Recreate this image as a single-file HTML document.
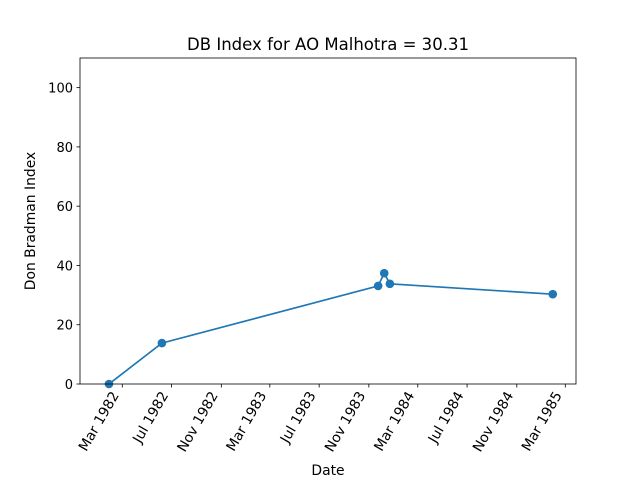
<!DOCTYPE html>
<html><head><meta charset="utf-8"><style>
body{margin:0;background:#fff;font-family:"Liberation Sans","DejaVu Sans",sans-serif}
</style></head><body>
<svg id="chart" width="640" height="480" xmlns="http://www.w3.org/2000/svg" font-family="DejaVu Sans, Liberation Sans, sans-serif"></svg>
<script>
const dates = ["1982-01-27","1982-06-07","1983-11-24","1983-12-09","1983-12-23","1985-01-29"];
const values = [0, 13.8, 33.1, 37.4, 33.8, 30.3];
const xTickLabels = ["Mar 1982","Jul 1982","Nov 1982","Mar 1983","Jul 1983","Nov 1983","Mar 1984","Jul 1984","Nov 1984","Mar 1985"];
const xTickDates = ["1982-03-01","1982-07-01","1982-11-01","1983-03-01","1983-07-01","1983-11-01","1984-03-01","1984-07-01","1984-11-01","1985-03-01"];
const yTicks = [0,20,40,60,80,100];

const svg = document.getElementById('chart');
const NS = 'http://www.w3.org/2000/svg';
const L=80,R=576,T=58,B=384;
const day = s => Date.parse(s)/86400000;
const d0 = day("1982-03-01"), d1 = day("1985-03-01");
const x0 = 122.3, x1 = 565.3;
const xs = s => x0 + (day(s)-d0)*(x1-x0)/(d1-d0);
const ys = v => B - v*(B-T)/110;
function el(tag, attrs, parent){const e=document.createElementNS(NS,tag);for(const k in attrs)e.setAttribute(k,attrs[k]);(parent||svg).appendChild(e);return e;}

const title = el('text',{x:328,y:50,'text-anchor':'middle','font-size':16.5,textLength:282,lengthAdjust:'spacingAndGlyphs'});
title.textContent='DB Index for AO Malhotra = 30.31';



yTicks.forEach(v=>{
  const y=ys(v);
  const t=el('line',{x1:L-3.5,x2:L,y1:y,y2:y,stroke:'#000','stroke-width':0.8});
  
  
  const lb=el('text',{x:L-7,y:y+5,'text-anchor':'end','font-size':13});
  lb.textContent=v;
  
  
});
xTickDates.forEach((d,i)=>{
  const x=xs(d);
  const t=el('line',{x1:x,x2:x,y1:B,y2:B+3.5,stroke:'#000','stroke-width':0.8});
  
  
  const lb=el('text',{x:0,y:0,'text-anchor':'end','font-size':13.9,transform:`translate(${x-3},${B+11}) rotate(-60)`});
  lb.textContent=xTickLabels[i];
  
  
});

const yl=el('text',{x:0,y:0,'text-anchor':'middle','font-size':13.9,transform:`translate(35,${(T+B)/2}) rotate(-90)`});
yl.textContent='Don Bradman Index';


const xl=el('text',{x:328,y:475,'text-anchor':'middle','font-size':13.9});
xl.textContent='Date';



const pts=dates.map((d,i)=>xs(d)+','+ys(values[i])).join(' ');
const line=el('polyline',{points:pts,fill:'none',stroke:'#1f77b4','stroke-width':1.7});


dates.forEach((d,i)=>{
  const c=el('circle',{cx:xs(d),cy:ys(values[i]),r:4.3,fill:'#1f77b4'});
  
  
});
const frame=el('rect',{x:L,y:T,width:R-L,height:B-T,fill:'none',stroke:'#000','stroke-width':0.8});


</script>
</body></html>
